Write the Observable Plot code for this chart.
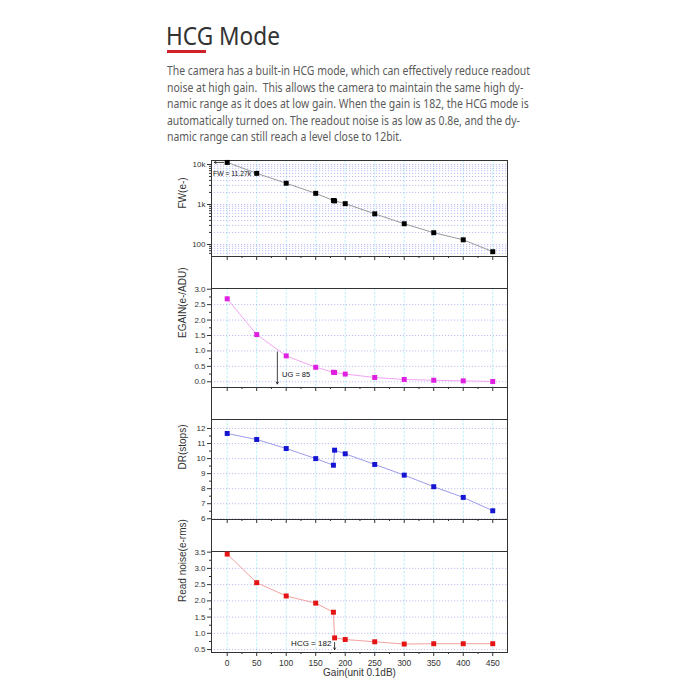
<!DOCTYPE html>
<html><head><meta charset="utf-8">
<script src="https://cdn.jsdelivr.net/npm/d3@7"></script>
<script src="https://cdn.jsdelivr.net/npm/@observablehq/plot@0.6"></script>
<style>
html,body{margin:0;padding:0;background:#fff;}
body{width:700px;height:700px;position:relative;overflow:hidden;font-family:"Noto Sans",sans-serif;}
#title{position:absolute;left:166px;top:23px;font-size:25px;line-height:25px;color:#333;white-space:nowrap;transform-origin:0 0;}
#bar{position:absolute;left:167px;top:49.5px;width:39px;height:3px;background:#d0202a;}
#para{position:absolute;left:167px;top:63px;font-size:12.5px;line-height:16.6px;color:#5a5a5a;white-space:pre;transform-origin:0 0;}
.panel{position:absolute;left:0;}
#sides{position:absolute;left:211px;top:160px;width:297px;height:493px;box-sizing:border-box;border-left:1px solid #333;border-right:1px solid #333;pointer-events:none;}
</style></head><body>
<div id="title">HCG Mode</div>
<div id="bar"></div>
<div id="para"></div>
<div id="chart"></div>
<div id="sides"></div>
<script>
// ---- data ----
const gains = [0, 50, 100, 150, 180, 182, 200, 250, 300, 350, 400, 450];
const fwValues = [11270, 6000, 3400, 1900, 1260, 1230, 1050, 585, 330, 197, 131, 66];
const egainValues = [2.69, 1.53, 0.84, 0.47, 0.31, 0.30, 0.25, 0.14, 0.075, 0.05, 0.03, 0.01];
const drValues = [11.67, 11.27, 10.67, 10.0, 9.56, 10.56, 10.32, 9.61, 8.9, 8.13, 7.42, 6.53];
const rnValues = [3.44, 2.56, 2.15, 1.93, 1.65, 0.86, 0.81, 0.74, 0.67, 0.68, 0.68, 0.68];
const xTicks = [0, 50, 100, 150, 200, 250, 300, 350, 400, 450];
const xMinorTicks = [25, 75, 125, 175, 225, 275, 325, 375, 425];
const fwTicks = [100, 1000, 10000];
const fwMinorTicks = [60, 70, 80, 90, 200, 300, 400, 500, 600, 700, 800, 900, 2000, 3000, 4000, 5000, 6000, 7000, 8000, 9000];
const egainTicks = [0, 0.5, 1.0, 1.5, 2.0, 2.5, 3.0];
const egainMinorTicks = [0.25, 0.75, 1.25, 1.75, 2.25, 2.75];
const drTicks = [6, 7, 8, 9, 10, 11, 12];
const drMinorTicks = [6.5, 7.5, 8.5, 9.5, 10.5, 11.5];
const rnTicks = [0.5, 1.0, 1.5, 2.0, 2.5, 3.0, 3.5];
const rnMinorTicks = [0.75, 1.25, 1.75, 2.25, 2.75, 3.25];
const paragraphLines = [
  "The camera has a built-in HCG mode, which can effectively reduce readout",
  "noise at high gain.  This allows the camera to maintain the same high dy-",
  "namic range as it does at low gain. When the gain is 182, the HCG mode is",
  "automatically turned on. The readout noise is as low as 0.8e, and the dy-",
  "namic range can still reach a level close to 12bit."
];
const fwNote = {text: "FW = 11.27k", gain: 0, value: 11270};
const ugNote = {text: "UG = 85", gain: 85, value: 0.97};
const hcgNote = {text: "HCG = 182", gain: 182, value: 0.72};

// ---- text ----
const title = document.getElementById("title");
title.style.transform = `scaleX(${114 / title.getBoundingClientRect().width})`;
const para = document.getElementById("para");
paragraphLines.forEach(t => { const d = document.createElement("div"); d.textContent = t; para.appendChild(d); });
const w1 = para.firstChild.getBoundingClientRect().width;
para.style.transform = `scaleX(${363 / w1})`;

const FONT = "'Liberation Sans', Arial, sans-serif";
const chart = document.getElementById("chart");

function panel(cfg) {
  const data = gains.map((g, i) => ({g, v: cfg.values[i]}));
  const mt = 10;
  const marks = [
    Plot.ruleX(xTicks, {stroke: "#a8eaf8", strokeDasharray: "2.5,1.5", strokeWidth: 0.8}),
    Plot.ruleY(cfg.grid, {stroke: "#a4a4ee", strokeDasharray: "1.2,1.8", strokeWidth: 0.7}),
    Plot.axisY({ticks: cfg.ticks, tickSize: 4, tickPadding: 2, tickFormat: cfg.format, label: null, fontSize: 8, stroke: "#333", fill: "#333"}),
    Plot.axisY({ticks: cfg.minor, tickSize: 2, tickFormat: () => "", label: null, stroke: "#333"}),
    Plot.axisX({ticks: xTicks, tickSize: 4, tickPadding: 3, tickFormat: cfg.showX ? (d => d) : (() => ""), label: null, fontSize: 8.5, stroke: "#333", fill: "#333"}),
    Plot.axisX({ticks: xMinorTicks, tickSize: 2, tickFormat: () => "", label: null, stroke: "#333"}),
    Plot.frame({stroke: "#333", strokeWidth: 1}),
    Plot.line(data, {x: "g", y: "v", stroke: cfg.lineColor, strokeWidth: 1}),
    Plot.dot(data, {x: "g", y: "v", symbol: "square", fill: cfg.fill, r: 2.8}),
    Plot.text([cfg.label], {frameAnchor: "left", rotate: -90, dx: -29, fontSize: 10, fill: "#333", text: d => d}),
    ...(cfg.extra || [])
  ];
  const svg = Plot.plot({
    width: 700, height: mt + cfg.frameH + cfg.mb,
    marginTop: mt, marginBottom: cfg.mb, marginLeft: 211, marginRight: 193,
    style: {fontFamily: FONT, background: "transparent", overflow: "visible", color: "#333"},
    x: {domain: [-26.6, 475]},
    y: cfg.y,
    marks
  });
  const wrap = document.createElement("div");
  wrap.className = "panel";
  wrap.style.top = (cfg.top - mt) + "px";
  wrap.appendChild(svg);
  chart.appendChild(wrap);
}

panel({
  values: fwValues, y: {type: "log", domain: [50.1, 12589]},
  ticks: fwTicks, minor: fwMinorTicks, grid: [...fwTicks, ...fwMinorTicks],
  format: d => d >= 1000 ? (d / 1000) + "k" : d, label: "FW(e-)",
  fill: "#000", lineColor: "#999", top: 160, frameH: 96, mb: 32,
  extra: [
    Plot.arrow([fwNote], {x1: d => d.gain - 6, y1: "value", x2: d => d.gain - 22, y2: "value", stroke: "#111", strokeWidth: 0.8, headLength: 4}),
    Plot.text([fwNote], {x: d => d.gain - 24, y: 5960, text: "text", textAnchor: "start", fontSize: 6.8, fill: "#111"})
  ]
});
panel({
  values: egainValues, y: {domain: [-0.185, 3.023]},
  ticks: egainTicks, minor: egainMinorTicks, grid: egainTicks.slice(0, -1),
  format: d3.format(".1f"), label: "EGAIN(e-/ADU)",
  fill: "#e020e0", lineColor: "#f2a6f2", top: 288, frameH: 99, mb: 32,
  extra: [
    Plot.arrow([ugNote], {x1: "gain", y1: "value", x2: "gain", y2: -0.07, stroke: "#111", strokeWidth: 0.8, headLength: 4}),
    Plot.text([ugNote], {x: d => d.gain + 8, y: 0.24, text: "text", textAnchor: "start", fontSize: 7.5, fill: "#111"})
  ]
});
panel({
  values: drValues, y: {domain: [5.95, 12.6]},
  ticks: drTicks, minor: drMinorTicks, grid: drTicks,
  format: d => d, label: "DR(stops)",
  fill: "#1414d2", lineColor: "#9c9ce8", top: 419, frameH: 100, mb: 32
});
panel({
  values: rnValues, y: {domain: [0.41, 3.52]},
  ticks: rnTicks, minor: rnMinorTicks, grid: rnTicks.slice(0, -1),
  format: d3.format(".1f"), label: "Read noise(e-rms)",
  fill: "#e41414", lineColor: "#f4a0a0", top: 551, frameH: 101, mb: 45, showX: true,
  extra: [
    Plot.arrow([hcgNote], {x1: "gain", y1: "value", x2: "gain", y2: 0.5, stroke: "#111", strokeWidth: 0.8, headLength: 3.5}),
    Plot.text([hcgNote], {x: d => d.gain - 5.5, y: 0.69, text: "text", textAnchor: "end", fontSize: 8, fill: "#111"}),
    Plot.text(["Gain(unit 0.1dB)"], {frameAnchor: "bottom", dy: 23, fontSize: 10, fill: "#333", text: d => d})
  ]
});
</script>
</body></html>
